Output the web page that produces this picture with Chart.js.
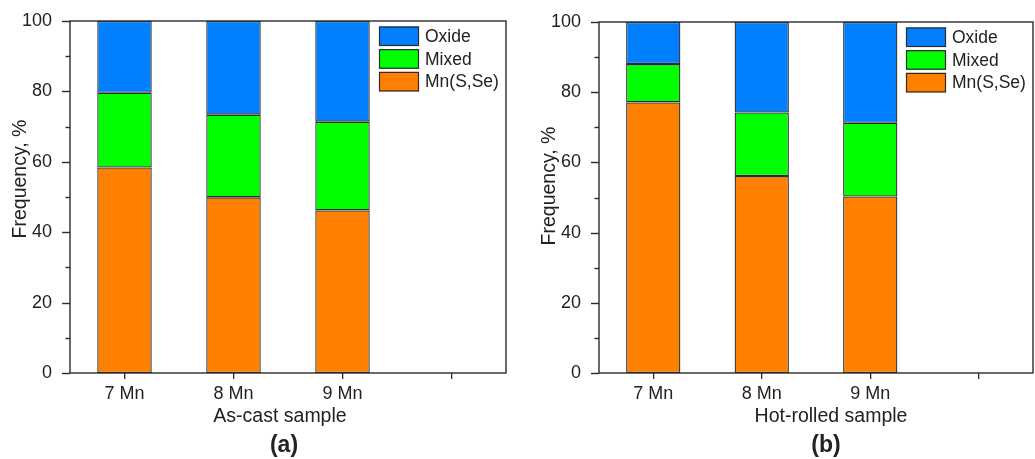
<!DOCTYPE html>
<html>
<head>
<meta charset="utf-8">
<title>Inclusion types</title>
<script src="https://cdn.jsdelivr.net/npm/chart.js@4.4.0/dist/chart.umd.min.js"></script>
<style>
  html, body { margin: 0; padding: 0; background: #fff; }
  .panel { position: absolute; top: 0; }
</style>
</head>
<body>
<div class="panel" style="left:0px"><canvas id="chart-cast" width="520" height="459"></canvas></div>
<div class="panel" style="left:520px"><canvas id="chart-rolled" width="515" height="459"></canvas></div>
<script>
// sample groups (the last slot stays empty)
var categories = ['7 Mn', '8 Mn', '9 Mn', ''];
var yTicks = [0, 20, 40, 60, 80, 100];

// as-cast, frequency in %
var castMnSSe = [58.4, 49.9, 46.2, null];
var castMixed = [21.2, 23.5, 25.2, null];
var castOxide = [20.4, 26.6, 28.6, null];

// hot-rolled, frequency in %
var rolledMnSSe = [77.1, 56.1, 50.3, null];
var rolledMixed = [10.9, 18.1, 21.0, null];
var rolledOxide = [12.0, 25.8, 28.7, null];

var seriesNames = ['Mn(S,Se)', 'Mixed', 'Oxide'];
var seriesColors = ['#ff8000', '#00ff00', '#0080ff'];

var FONT = "'Liberation Sans', Arial, sans-serif";
var INK = '#222';
var LINE = '#2b2b2b';

/**
 * Frame, y ticks (major + minor), axis titles, inner legend and panel letter
 */
var panelDecor = {
    id: 'panelDecor',
    afterDraw: function(chart, args, opts) {
        var ctx = chart.ctx;
        var area = chart.chartArea;
        var y = chart.scales.y;

        ctx.save();
        ctx.strokeStyle = LINE;
        ctx.lineWidth = 1.4;
        ctx.strokeRect(area.left, area.top, area.right - area.left, area.bottom - area.top);

        for (var v = 0; v <= 100; v += 10) {
            var py = Math.round(y.getPixelForValue(v)) + 0.5;
            var len = (v % 20 === 0) ? 8 : 4.5;
            ctx.beginPath();
            ctx.moveTo(area.left - len, py);
            ctx.lineTo(area.left, py);
            ctx.stroke();
        }

        ctx.fillStyle = INK;
        ctx.textAlign = 'center';
        ctx.textBaseline = 'middle';

        ctx.save();
        ctx.translate(opts.yTitle.x, opts.yTitle.y);
        ctx.rotate(-Math.PI / 2);
        ctx.font = '19.5px ' + FONT;
        ctx.fillText('Frequency, %', 0, 0);
        ctx.restore();

        ctx.font = '19.5px ' + FONT;
        ctx.fillText(opts.xTitle.text, opts.xTitle.x, opts.xTitle.y);

        ctx.font = 'bold 23px ' + FONT;
        ctx.fillText(opts.letter.text, opts.letter.x, opts.letter.y);

        // legend, top series first
        var boxLeft = area.right - 127;
        var boxTop = area.top + 5.5;
        ctx.font = '17.5px ' + FONT;
        ctx.textAlign = 'left';
        var sets = chart.data.datasets.slice().reverse();
        sets.forEach(function(ds, i) {
            var top = boxTop + i * 22.7;
            ctx.fillStyle = ds.backgroundColor;
            ctx.fillRect(boxLeft, top, 40, 19.5);
            ctx.strokeStyle = LINE;
            ctx.lineWidth = 1.2;
            ctx.strokeRect(boxLeft + 0.5, top + 0.5, 39, 18.5);
            ctx.fillStyle = INK;
            ctx.fillText(ds.label, boxLeft + 46, top + 10.5);
        });
        ctx.restore();
    }
};

var makeChart = function(canvasId, values, plot, decor) {
    var canvas = document.getElementById(canvasId);
    var ctx = canvas.getContext('2d');
    var datasets = values.map(function(arr, i) {
        return {
            label: seriesNames[i],
            data: arr,
            backgroundColor: seriesColors[i],
            borderColor: LINE,
            borderWidth: 1.3,
            borderSkipped: false,
            barPercentage: 0.5,
            categoryPercentage: 1.0
        };
    });

    return new Chart(ctx, {
        type: 'bar',
        data: { labels: categories, datasets: datasets },
        plugins: [panelDecor],
        options: {
            responsive: false,
            animation: false,
            events: [],
            layout: {
                padding: { left: 0, top: plot.top, right: canvas.width - plot.right, bottom: 0 }
            },
            plugins: {
                legend: { display: false },
                tooltip: { enabled: false },
                title: { display: false },
                panelDecor: decor
            },
            scales: {
                x: {
                    stacked: true,
                    offset: true,
                    border: { display: false },
                    grid: {
                        offset: false,
                        drawOnChartArea: false,
                        drawTicks: true,
                        tickLength: 6,
                        color: LINE,
                        lineWidth: 1.3
                    },
                    ticks: {
                        color: INK,
                        padding: 4,
                        maxRotation: 0,
                        font: { family: FONT, size: 18 }
                    },
                    afterFit: function(scale) { scale.height = canvas.height - plot.bottom; }
                },
                y: {
                    stacked: true,
                    min: 0,
                    max: 100,
                    border: { display: false },
                    grid: { display: false },
                    afterBuildTicks: function(scale) {
                        scale.ticks = yTicks.map(function(v) { return { value: v }; });
                    },
                    ticks: {
                        color: INK,
                        padding: 10,
                        font: { family: FONT, size: 18 }
                    },
                    afterFit: function(scale) { scale.width = plot.left; }
                }
            }
        }
    });
};

makeChart('chart-cast',
    [castMnSSe, castMixed, castOxide],
    { left: 70, top: 21, right: 506, bottom: 373 },
    {
        yTitle: { x: 20.5, y: 179 },
        xTitle: { text: 'As-cast sample', x: 280, y: 416.5 },
        letter: { text: '(a)', x: 284, y: 446 }
    });

makeChart('chart-rolled',
    [rolledMnSSe, rolledMixed, rolledOxide],
    { left: 79, top: 22, right: 513, bottom: 373 },
    {
        yTitle: { x: 29.5, y: 186 },
        xTitle: { text: 'Hot-rolled sample', x: 311, y: 416.5 },
        letter: { text: '(b)', x: 306, y: 446 }
    });
</script>
</body>
</html>
